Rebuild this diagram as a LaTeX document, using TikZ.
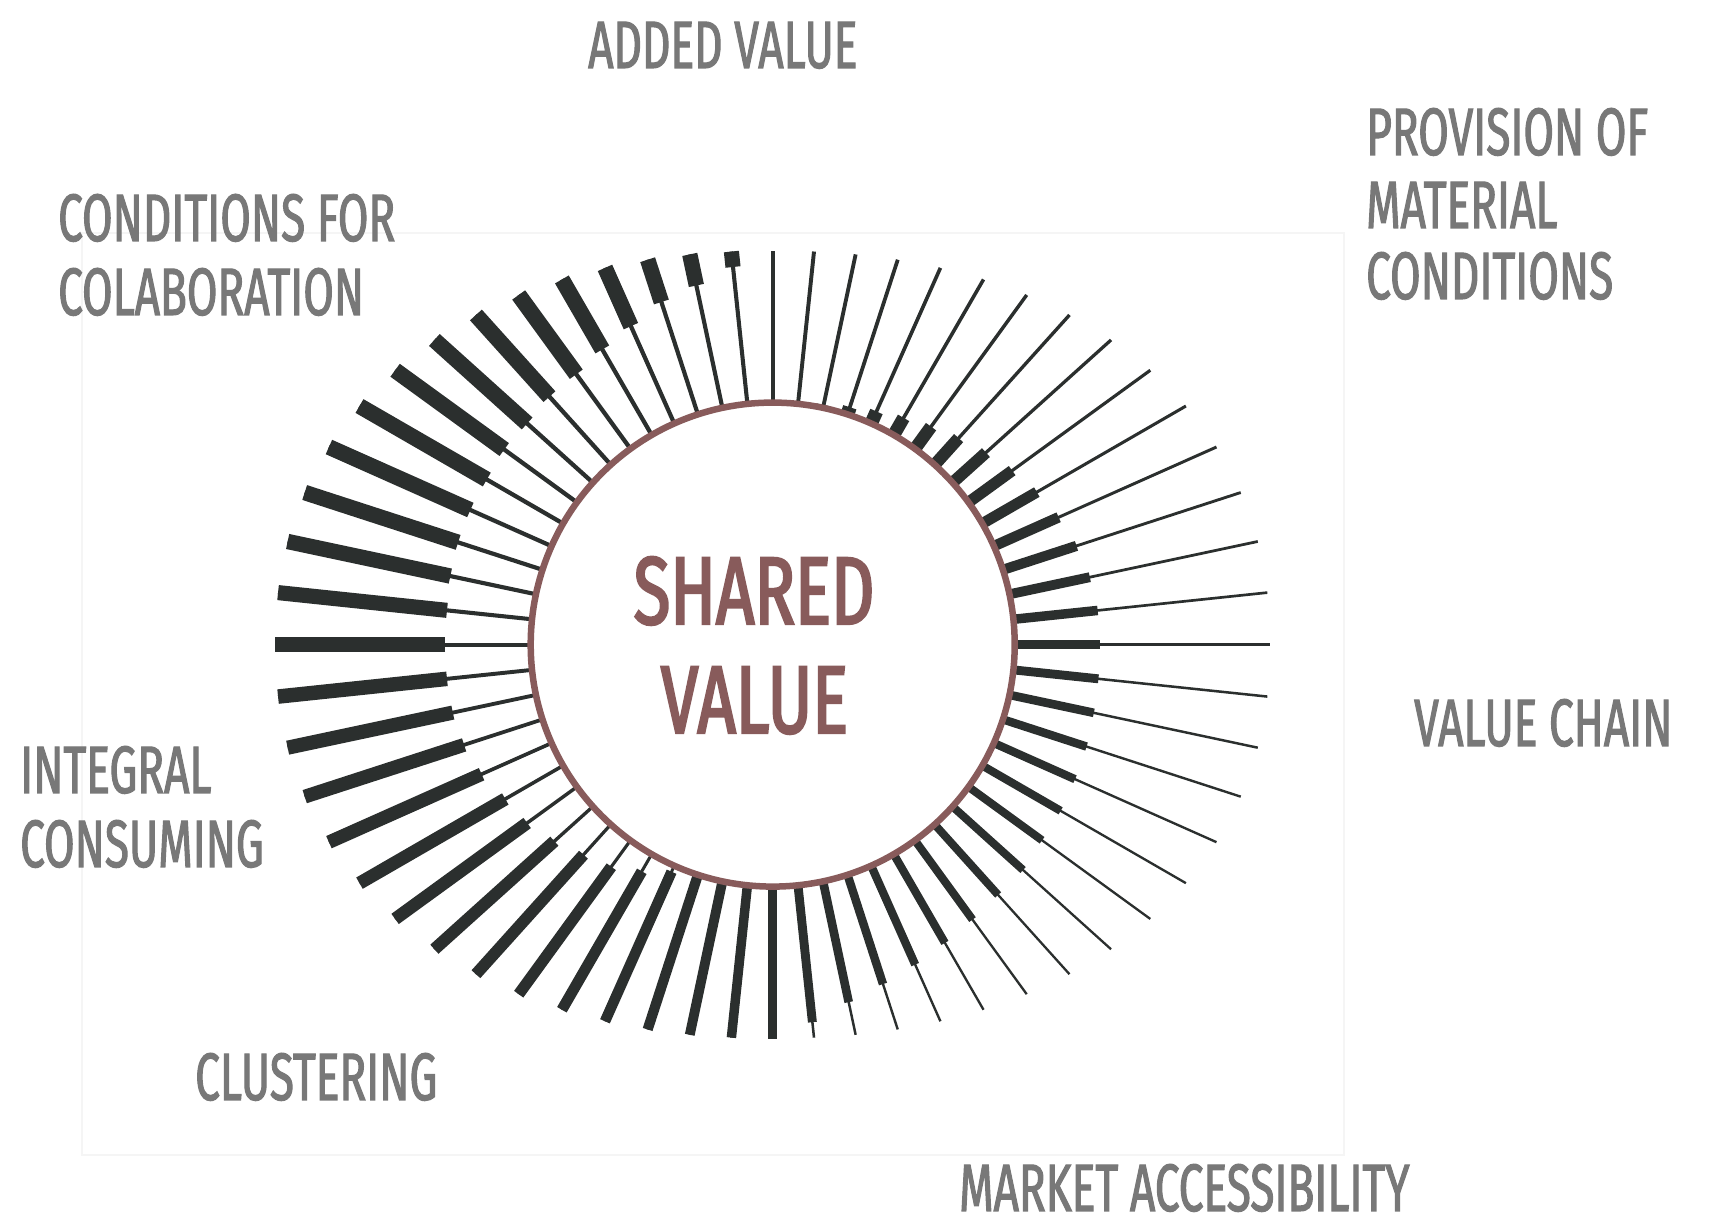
\documentclass[tikz,border=0pt]{standalone}
\usepackage{fontspec}
\setmainfont{Fira Sans}
\newfontfamily\dinfont{Fira Sans}[FakeStretch=0.66,FakeBold=1.6]
\newfontfamily\dincore{Fira Sans}[FakeStretch=0.70,FakeBold=2.4]

\definecolor{keyblack}{RGB}{43,47,46}
\definecolor{rim}{RGB}{136,91,91}
\definecolor{lbl}{RGB}{120,120,120}

\tikzset{
  tag/.style={anchor=base west, inner sep=0pt, text=lbl,
    font={\dinfont\fontsize{67}{67}\selectfont}},
  coretext/.style={anchor=base, inner sep=0pt, text=rim,
    font={\dincore\fontsize{96}{96}\selectfont}},
  keyline/.style={draw=keyblack, line cap=butt},
}

\begin{document}
\begin{tikzpicture}[x=1pt,y=1pt]
\useasboundingbox (0,0) rectangle (1716,1226);
%frame
\draw[black!4, line width=1.2] (82,993) rectangle (1344,71);
%keys
\begin{scope}[shift={(772.7,581.4)}]
\foreach \a/\f in {0/.34,6/.337,12/.329,18/.315,24/.297,30/.274,36/.247,42/.218,
  48/.186,54/.153,60/.12,66/.088,72/.058,78/.032,84/.012,90/0,
  96/.10,102/.20,108/.27,114/.37,120/.445,126/.51,132/.54,138/.58,144/.595,
  150/.62,156/.63,162/.64,168/.65,174/.66,
  180/.66,186/.66,192/.66,198/.665,204/.68,210/.71,216/.72,222/.75,228/.79,
  234/.82,240/.88,246/.95,252/.98,258/1,264/1,
  270/1,276/.90,282/.79,288/.71,294/.64,300/.575,306/.52,312/.476,318/.45,
  324/.41,330/.39,336/.37,342/.357,348/.345,354/.34}
{
  \pgfmathsetmacro\u{abs(cos(\a))*0.791+0.003}
  \pgfmathsetmacro\v{abs(sin(\a))+0.003}
  \pgfmathsetmacro\ro{395*pow(pow(\u,2.2)+pow(\v,2.2),-0.4545)}
  \pgfmathsetmacro\wk{12+4*cos(\a-135)}
  \pgfmathsetmacro\wl{3.3+1.0*cos(\a-135)}
  \pgfmathsetmacro\tk{\f*(\ro-240)}
  \pgfmathsetmacro\side{(\a>90)*(\a<270)}
  \pgfmathsetmacro\ri{\side*(\ro-\tk)+(1-\side)*240}
  \draw[keyline, line width=\wl pt] (\a:238) -- (\a:\ro);
  \draw[keyline, line width=\wk pt] (\a:\ri) -- (\a:{\ri+\tk});
}
\end{scope}
%core
\node[circle, draw=rim, line width=6.5, fill=white, minimum size=484, inner sep=0] (core) at (772.7,581.4) {};
\node[coretext] (shared) at (754,602) {SHARED};
\node[coretext] (value) at (754.5,493) {VALUE};
%tags
\node[tag] (added) at (588,1158) {ADDED VALUE};
\node[tag] (cond1) at (58,985) {CONDITIONS FOR};
\node[tag] (cond2) at (58,911) {COLABORATION};
\node[tag] (prov1) at (1366,1071) {PROVISION OF};
\node[tag] (prov2) at (1366,998) {MATERIAL};
\node[tag] (prov3) at (1366,927) {CONDITIONS};
\node[tag] (chain) at (1414,480) {VALUE CHAIN};
\node[tag] (integ1) at (20,433) {INTEGRAL};
\node[tag] (integ2) at (20,359) {CONSUMING};
\node[tag] (clust) at (195,126) {CLUSTERING};
\node[tag] (market) at (959,15) {MARKET ACCESSIBILITY};
\end{tikzpicture}
\end{document}
